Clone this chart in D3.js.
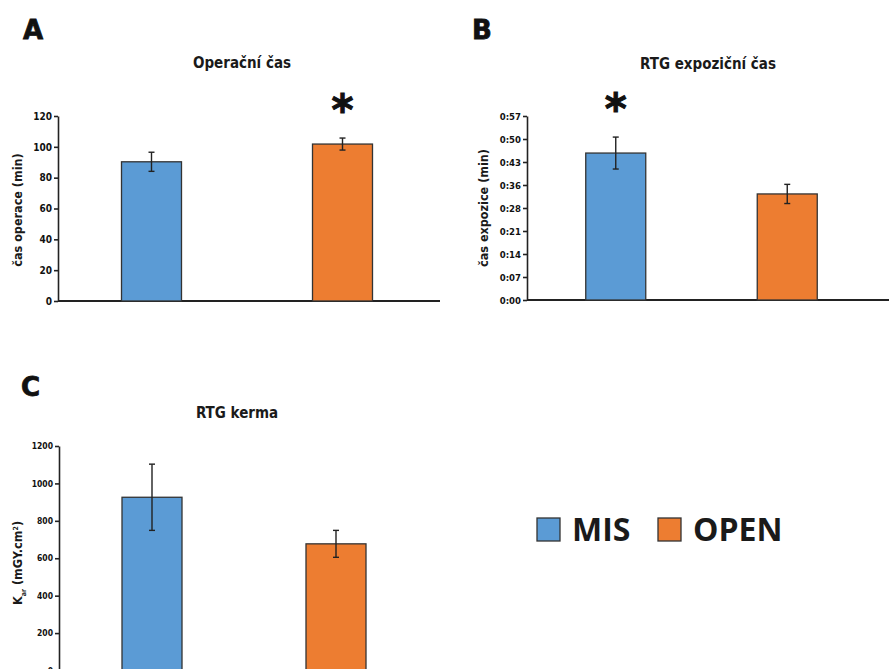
<!DOCTYPE html>
<html>
<head>
<meta charset="utf-8">
<script src="https://cdn.jsdelivr.net/npm/d3@7"></script>
<style>
    body { margin: 0; background: #fff; }
    svg { display: block; }
    .tick text { font-family: "DejaVu Sans Condensed", "DejaVu Sans", sans-serif; font-weight: bold; fill: #111; }
    .tick line, .domain { stroke: #222; stroke-width: 1.6; }
    .title { font-family: "DejaVu Sans Condensed", "DejaVu Sans", sans-serif; font-weight: bold; fill: #1a1a1a; }
</style>
</head>
<body>
<svg id="chart" width="889" height="669"></svg>
<script>
(function () {

    // groups and colours
    var groups = ["MIS", "OPEN"];
    var colors = ["#5b9bd5", "#ed7d31"];

    // A - operacni cas (min)
    var opTime = [90.3, 101.8];
    var opTimeErr = [6.2, 3.9];
    var opTicks = [0, 20, 40, 60, 80, 100, 120];

    // B - RTG expozicni cas (min, axis in h:mm)
    var expTime = [46.0, 33.2];
    var expTimeErr = [5.0, 3.0];
    var expTicks = [0, 7.2, 14.4, 21.6, 28.8, 36, 43.2, 50.4, 57.6];
    var expTickLabels = ["0:00", "0:07", "0:14", "0:21", "0:28", "0:36", "0:43", "0:50", "0:57"];

    // C - RTG kerma (mGY.cm2)
    var kerma = [926, 677];
    var kermaErr = [177, 72];
    var kermaTicks = [0, 200, 400, 600, 800, 1000, 1200];

    var svg = d3.select("#chart");

    function panel(opts) {
        var g = svg.append("g");

        var x = d3.scalePoint()
            .domain(groups)
            .range(opts.xRange)
            .padding(0.5);

        var y = d3.scaleLinear()
            .domain(opts.yDomain)
            .range(opts.yRange);

        var barW = 60;

        // x axis baseline
        g.append("line")
            .attr("x1", opts.axisX).attr("x2", opts.baseEnd)
            .attr("y1", y(0)).attr("y2", y(0))
            .attr("stroke", "#222").attr("stroke-width", 1.8);

        // bars
        g.selectAll("rect.bar")
            .data(opts.values)
            .enter().append("rect")
            .attr("class", "bar")
            .attr("x", function (d, i) { return x(groups[i]) - barW / 2; })
            .attr("y", function (d) { return y(d); })
            .attr("width", barW)
            .attr("height", function (d) { return y(0) - y(d); })
            .attr("fill", function (d, i) { return colors[i]; })
            .attr("stroke", "#333")
            .attr("stroke-width", 1.3);

        // error bars
        var eb = g.selectAll("g.err")
            .data(opts.values)
            .enter().append("g")
            .attr("class", "err")
            .attr("stroke", "#222")
            .attr("stroke-width", 1.4);
        eb.append("line")
            .attr("x1", function (d, i) { return x(groups[i]); })
            .attr("x2", function (d, i) { return x(groups[i]); })
            .attr("y1", function (d, i) { return y(d + opts.errors[i]); })
            .attr("y2", function (d, i) { return y(d - opts.errors[i]); });
        [1, -1].forEach(function (s) {
            eb.append("line")
                .attr("x1", function (d, i) { return x(groups[i]) - 3; })
                .attr("x2", function (d, i) { return x(groups[i]) + 3; })
                .attr("y1", function (d, i) { return y(d + s * opts.errors[i]); })
                .attr("y2", function (d, i) { return y(d + s * opts.errors[i]); });
        });

        // y axis
        var axis = d3.axisLeft(y)
            .tickValues(opts.ticks)
            .tickSize(4)
            .tickSizeOuter(0)
            .tickPadding(2)
            .tickFormat(opts.tickFormat || d3.format("d"));
        var ax = g.append("g")
            .attr("transform", "translate(" + opts.axisX + ",0)")
            .call(axis);
        ax.selectAll(".tick text").style("font-size", opts.tickFont + "px");

        // panel title
        g.append("text")
            .attr("class", "title")
            .attr("x", opts.titleX).attr("y", opts.titleY)
            .attr("text-anchor", "middle")
            .style("font-size", "15px")
            .text(opts.title);

        // panel letter
        g.append("text")
            .attr("x", opts.letterX).attr("y", opts.letterY)
            .style("font-family", "'DejaVu Sans', sans-serif")
            .style("font-weight", "bold")
            .style("font-size", "26px")
            .attr("fill", "#111")
            .attr("stroke", "#111").attr("stroke-width", 0.8)
            .text(opts.letter);

        // y label
        var yl = g.append("text")
            .attr("class", "title")
            .attr("transform", "translate(" + opts.ylabX + "," + opts.ylabY + ") rotate(-90)")
            .attr("text-anchor", "middle")
            .style("font-size", "12.5px");
        if (opts.ylabParts) {
            opts.ylabParts.forEach(function (p) {
                yl.append("tspan")
                    .attr("baseline-shift", p.shift || null)
                    .style("font-size", p.size ? p.size + "px" : null)
                    .text(p.t);
            });
        } else {
            yl.text(opts.ylab);
        }

        // significance asterisk
        if (opts.star !== undefined) {
            var si = opts.star;
            g.append("text")
                .attr("x", x(groups[si]))
                .attr("y", y(opts.values[si] + opts.errors[si]) - 9)
                .attr("text-anchor", "middle")
                .style("font-family", "'DejaVu Sans', sans-serif")
                .style("font-weight", "bold")
                .style("font-size", "42px")
                .attr("fill", "#111")
                .attr("stroke", "#111").attr("stroke-width", 1)
                .attr("dy", "0.62em")
                .attr("transform", "translate(0,-30)")
                .text("*");
        }
    }

    panel({
        letter: "A", letterX: 23, letterY: 39,
        title: "Operační čas", titleX: 242, titleY: 68,
        ylab: "čas operace (min)", ylabX: 22, ylabY: 210,
        values: opTime, errors: opTimeErr, ticks: opTicks,
        yDomain: [0, 120], yRange: [301, 116],
        xRange: [56, 438], axisX: 58, baseEnd: 440,
        tickFont: 10, star: 1
    });

    panel({
        letter: "B", letterX: 472, letterY: 39,
        title: "RTG expoziční čas", titleX: 708, titleY: 69,
        ylab: "čas expozice (min)", ylabX: 488, ylabY: 208,
        values: expTime, errors: expTimeErr, ticks: expTicks,
        tickFormat: function (d, i) { return expTickLabels[i]; },
        yDomain: [0, 57.6], yRange: [300, 116],
        xRange: [530, 873], axisX: 527, baseEnd: 889,
        tickFont: 9.5, star: 0
    });

    panel({
        letter: "C", letterX: 21, letterY: 396,
        title: "RTG kerma", titleX: 237, titleY: 418,
        ylabParts: [
            { t: "K" },
            { t: "ar", shift: "sub", size: 7 },
            { t: " (mGY.cm" },
            { t: "2", shift: "super", size: 7 },
            { t: ")" }
        ],
        ylabX: 22, ylabY: 563,
        values: kerma, errors: kermaErr, ticks: kermaTicks,
        yDomain: [0, 1200], yRange: [670.5, 446],
        xRange: [60, 428], axisX: 59, baseEnd: 440,
        tickFont: 8.5
    });

    // legend
    var legend = svg.append("g").attr("transform", "translate(537,518)");
    var li = legend.selectAll("g")
        .data(groups)
        .enter().append("g")
        .attr("transform", function (d, i) { return "translate(" + [0, 121][i] + ",0)"; });
    li.append("rect")
        .attr("width", 23).attr("height", 23)
        .attr("fill", function (d, i) { return colors[i]; })
        .attr("stroke", "#333").attr("stroke-width", 1.3);
    li.append("text")
        .attr("x", 35).attr("y", 22.5)
        .style("font-family", "'Open Sans', sans-serif")
        .style("font-weight", "bold")
        .style("font-size", "32px")
        .attr("fill", "#1a1a1a")
        .text(function (d) { return d; });

})();
</script>
</body>
</html>
